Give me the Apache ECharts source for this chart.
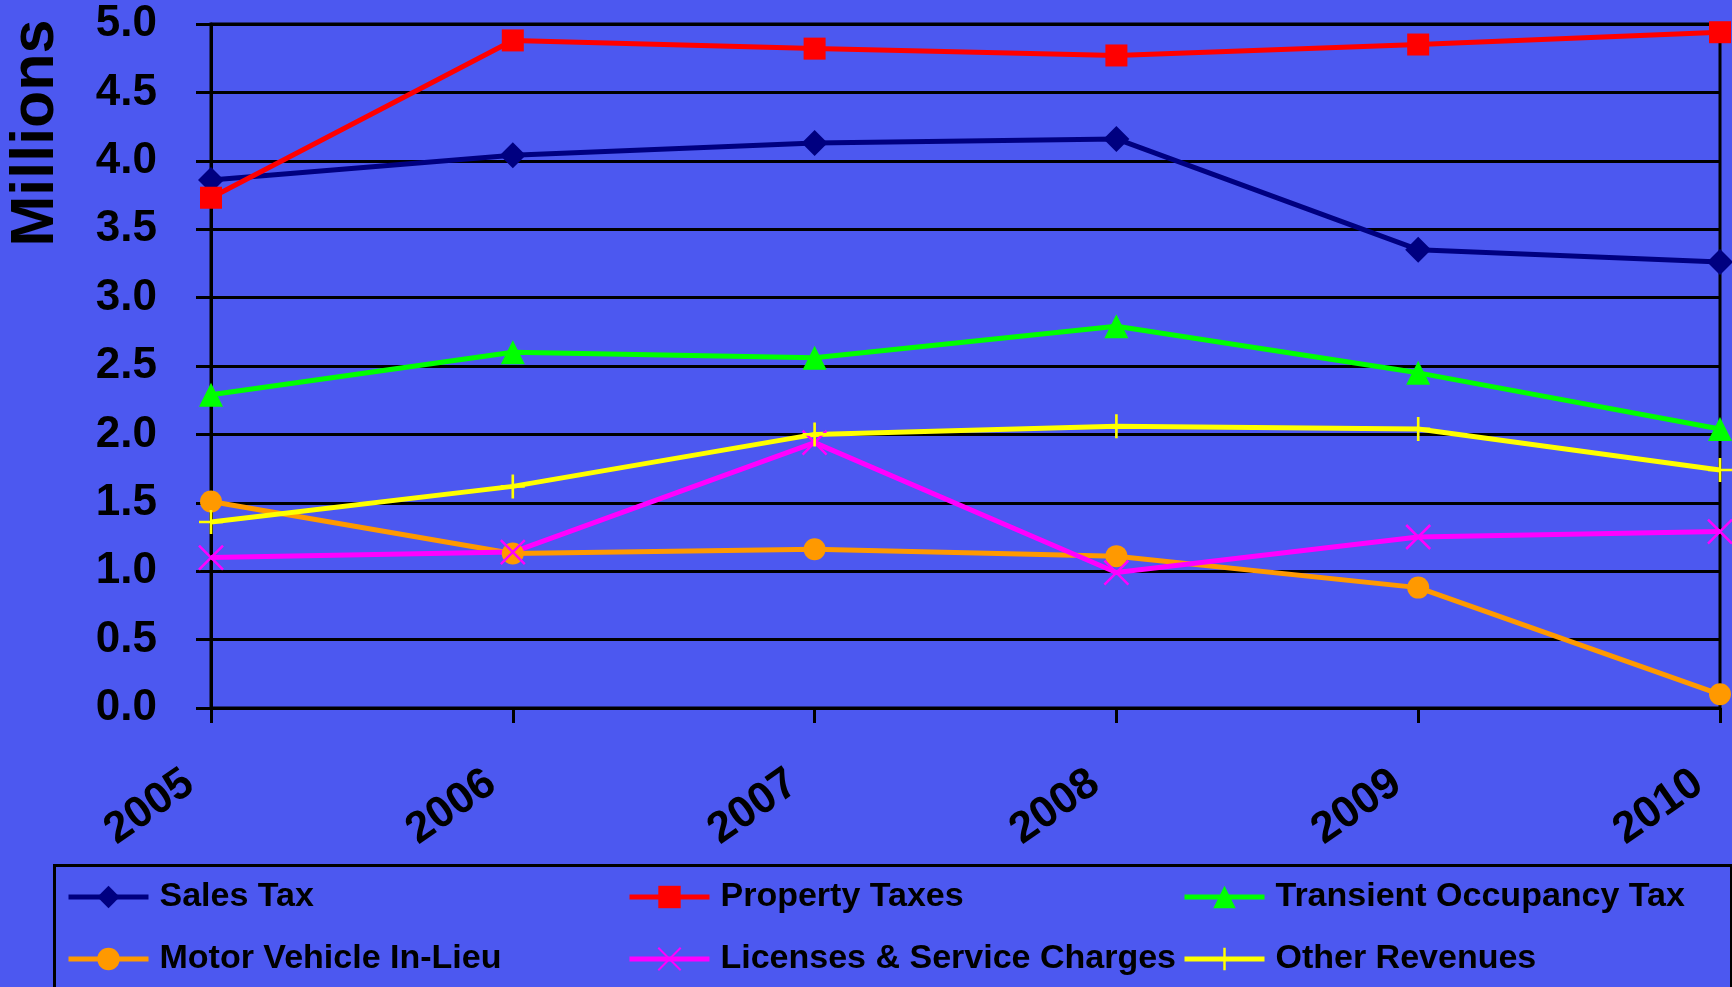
<!DOCTYPE html>
<html>
<head>
<meta charset="utf-8">
<script src="https://cdn.jsdelivr.net/npm/echarts@6/dist/echarts.min.js"></script>
<style>
html,body{margin:0;padding:0;background:#4C58F0;}
#chart{width:1732px;height:987px;}
</style>
</head>
<body>
<div id="chart"></div>
<script>
const years = ['2005','2006','2007','2008','2009','2010'];
const salesTax = [3.86, 4.04, 4.13, 4.16, 3.35, 3.26];
const propertyTaxes = [3.73, 4.88, 4.82, 4.77, 4.85, 4.94];
const transientOccupancyTax = [2.29, 2.60, 2.56, 2.79, 2.45, 2.04];
const motorVehicleInLieu = [1.51, 1.13, 1.16, 1.11, 0.88, 0.10];
const licensesServiceCharges = [1.10, 1.14, 1.94, 0.99, 1.25, 1.29];
const otherRevenues = [1.36, 1.62, 2.00, 2.06, 2.04, 1.74];
const seriesNames = ['Sales Tax','Property Taxes','Transient Occupancy Tax','Motor Vehicle In-Lieu','Licenses & Service Charges','Other Revenues'];

const FONT = 'Liberation Sans, Arial, sans-serif';
const plusPath = 'path://M4.45,0 H5.55 V4.45 H10 V5.55 H5.55 V10 H4.45 V5.55 H0 V4.45 H4.45 Z';
const xPath = 'path://M0,0 L10,10 M10,0 L0,10';

function mkSeries(name, data, color, symbol, size, extraItem) {
  return {
    name: name, type: 'line', data: data,
    symbol: symbol, symbolSize: size,
    lineStyle: {color: color, width: 5},
    itemStyle: Object.assign({color: color}, extraItem || {}),
    emphasis: {disabled: true},
    animation: false
  };
}

const legendCommon = {
  orient: 'vertical', top: 877, padding: 0, itemGap: 22,
  itemWidth: 80, itemHeight: 28,
  lineStyle: {width: 5},
  textStyle: {color: '#000', fontWeight: 'bold', fontSize: 34, fontFamily: FONT, lineHeight: 40, padding: [0,0,0,6]}
};

const chart = echarts.init(document.getElementById('chart'), null, {renderer: 'canvas'});
chart.setOption({
  backgroundColor: '#4C58F0',
  animation: false,
  grid: {left: 211, right: 12, top: 24, bottom: 279, show: true, borderColor: '#000', borderWidth: 3, backgroundColor: 'transparent'},
  xAxis: {
    type: 'category', data: years, boundaryGap: false,
    axisLine: {lineStyle: {color: '#000', width: 3}},
    axisTick: {show: true, length: 15, lineStyle: {color: '#000', width: 3}, alignWithLabel: true},
    axisLabel: {color: '#000', fontWeight: 'bold', fontSize: 44, fontFamily: FONT, rotate: 35, margin: 56, interval: 0, padding: [0, 26, 0, 0]},
    splitLine: {show: false}
  },
  yAxis: {
    type: 'value', min: 0, max: 5, interval: 0.5,
    axisLine: {show: true, lineStyle: {color: '#000', width: 3}},
    axisTick: {show: true, length: 15, lineStyle: {color: '#000', width: 3}},
    axisLabel: {color: '#000', fontWeight: 'bold', fontSize: 44, fontFamily: FONT, margin: 54, formatter: v => v.toFixed(1)},
    splitLine: {show: true, lineStyle: {color: '#000', width: 3}}
  },
  legend: [
    Object.assign({left: 66, data: [seriesNames[0], seriesNames[3]]}, legendCommon),
    Object.assign({left: 627, data: [seriesNames[1], seriesNames[4]]}, legendCommon),
    Object.assign({left: 1182, data: [seriesNames[2], seriesNames[5]]}, legendCommon)
  ],
  graphic: [
    {type: 'rect', left: 53, top: 864, shape: {x: 0, y: 0, width: 1677, height: 200}, style: {fill: 'transparent', stroke: '#000', lineWidth: 3}, z: 1},
    {type: 'text', x: 36, y: 133, rotation: Math.PI / 2, style: {text: 'Millions', x: 0, y: 0, align: 'center', verticalAlign: 'middle', fill: '#000', font: 'bold 61px ' + FONT}}
  ],
  series: [
    mkSeries(seriesNames[0], salesTax, '#000080', 'diamond', 26),
    mkSeries(seriesNames[1], propertyTaxes, '#FF0000', 'rect', 22),
    mkSeries(seriesNames[2], transientOccupancyTax, '#00FF00', 'triangle', 24),
    mkSeries(seriesNames[3], motorVehicleInLieu, '#FF9900', 'circle', 22),
    mkSeries(seriesNames[4], licensesServiceCharges, '#FF00FF', xPath, 24, {borderColor: '#FF00FF', borderWidth: 2.5}),
    mkSeries(seriesNames[5], otherRevenues, '#FFFF00', plusPath, 24)
  ]
});
</script>
</body>
</html>
